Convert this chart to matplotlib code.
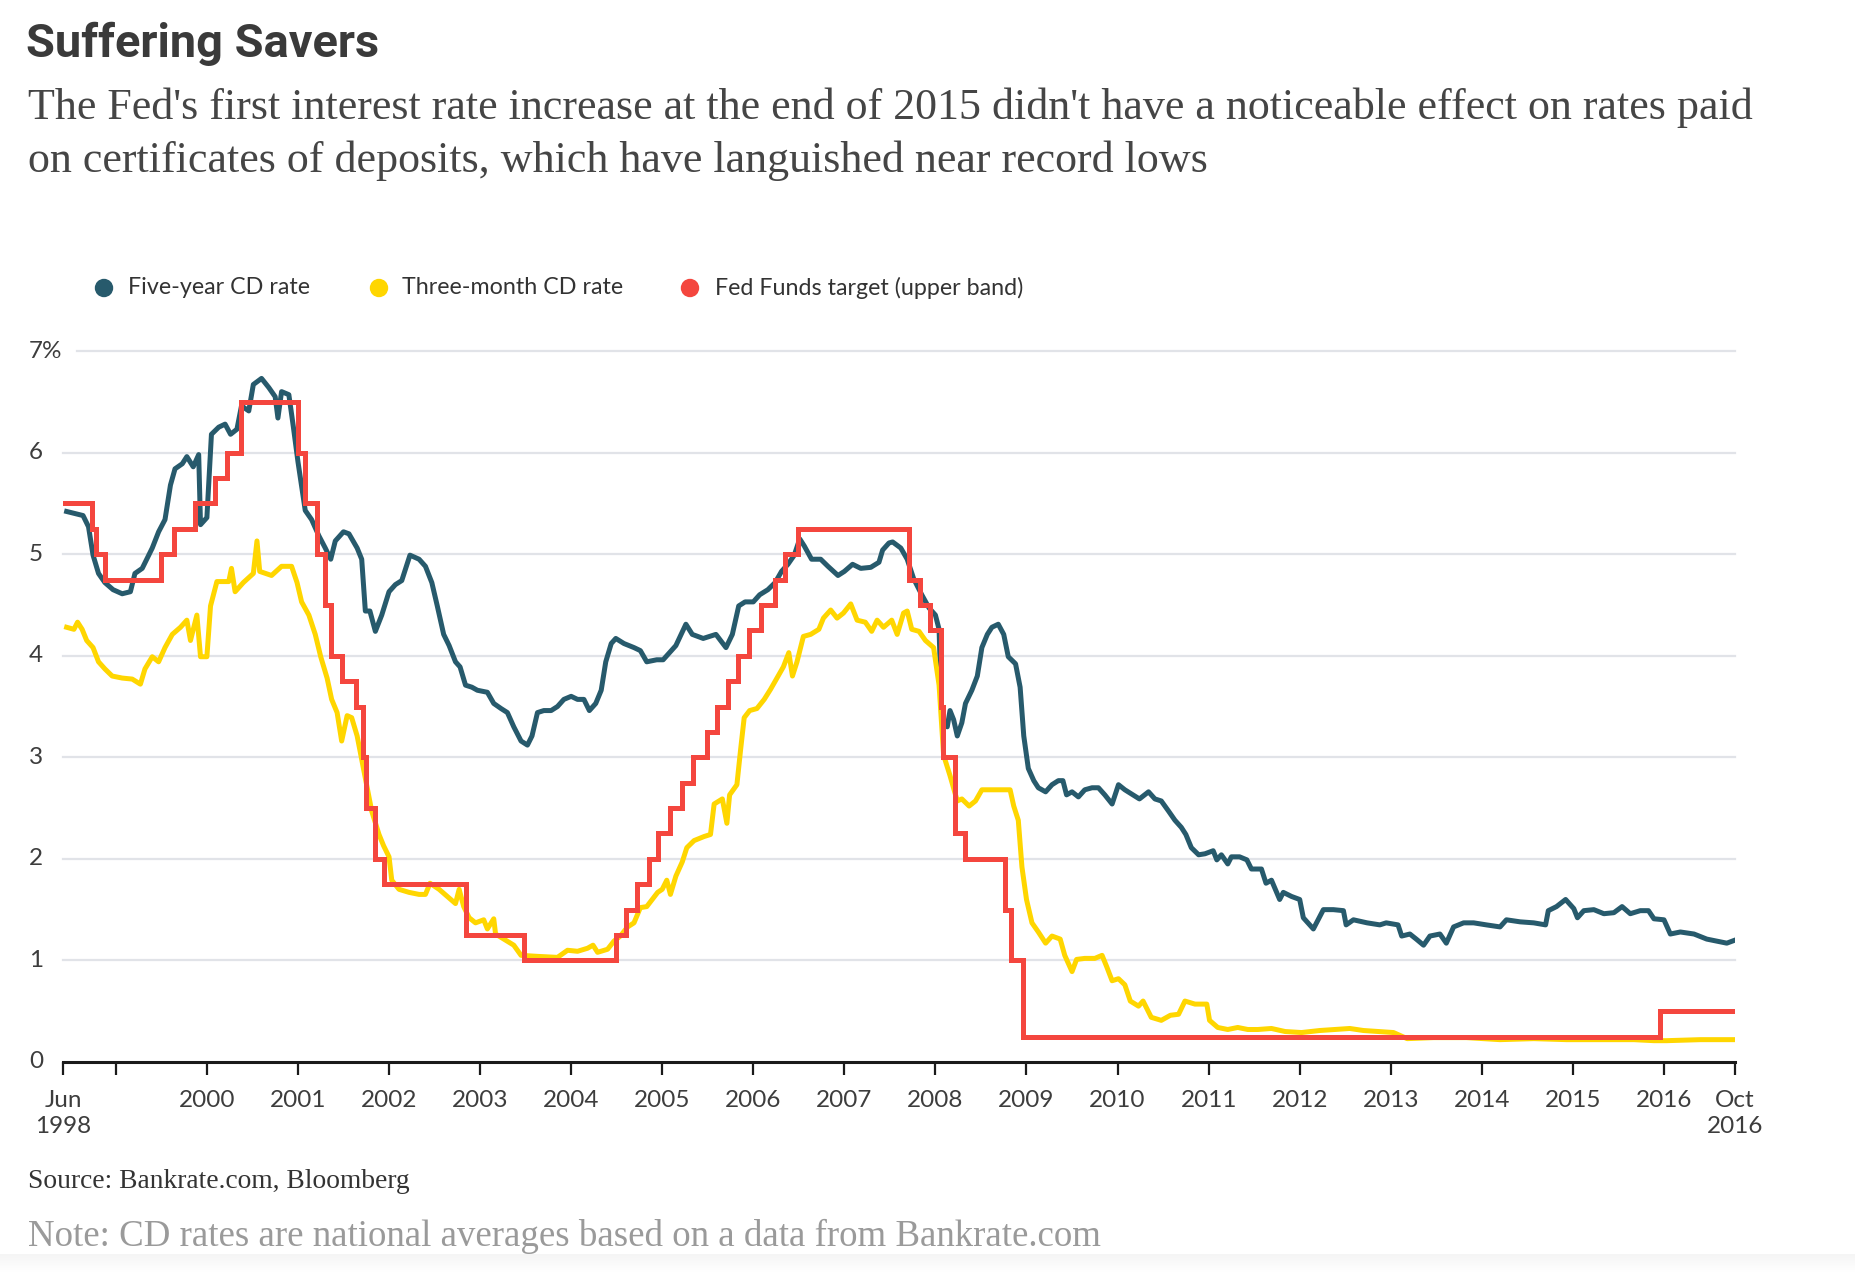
import matplotlib
matplotlib.use("Agg")
import matplotlib.pyplot as plt
import matplotlib.transforms as mtransforms
import numpy as np
import pandas as pd

# ---------------- data ----------------
five_year_t = [1998.46, 1998.55, 1998.64, 1998.70, 1998.75, 1998.81, 1998.88, 1998.97, 1999.07, 1999.16,
               1999.21, 1999.29, 1999.40, 1999.47, 1999.54, 1999.60, 1999.65, 1999.73, 1999.78, 1999.85,
               1999.91, 1999.93, 2000.00, 2000.05, 2000.13, 2000.20, 2000.26, 2000.33, 2000.38, 2000.46,
               2000.51, 2000.60, 2000.68, 2000.75, 2000.78, 2000.82, 2000.90, 2000.95, 2001.00, 2001.08,
               2001.15, 2001.23, 2001.30, 2001.36, 2001.41, 2001.50, 2001.56, 2001.65, 2001.70, 2001.74,
               2001.79, 2001.85, 2001.92, 2002.00, 2002.07, 2002.14, 2002.23, 2002.33, 2002.40, 2002.47,
               2002.53, 2002.60, 2002.66, 2002.73, 2002.78, 2002.84, 2002.91, 2002.97, 2003.08, 2003.15,
               2003.23, 2003.30, 2003.37, 2003.45, 2003.52, 2003.57, 2003.63, 2003.70, 2003.78, 2003.85,
               2003.92, 2004.00, 2004.07, 2004.14, 2004.20, 2004.27, 2004.33, 2004.38, 2004.44, 2004.49,
               2004.58, 2004.69, 2004.76, 2004.83, 2004.94, 2005.01, 2005.08, 2005.15, 2005.26, 2005.33,
               2005.45, 2005.59, 2005.70, 2005.77, 2005.84, 2005.91, 2006.00, 2006.07, 2006.16, 2006.24,
               2006.31, 2006.38, 2006.45, 2006.51, 2006.56, 2006.64, 2006.74, 2006.82, 2006.93, 2007.00,
               2007.09, 2007.18, 2007.29, 2007.38, 2007.42, 2007.49, 2007.53, 2007.62, 2007.69, 2007.76,
               2007.85, 2007.93, 2008.00, 2008.04, 2008.07, 2008.13, 2008.16, 2008.20, 2008.24, 2008.29,
               2008.33, 2008.40, 2008.46, 2008.51, 2008.57, 2008.62, 2008.69, 2008.75, 2008.80, 2008.88,
               2008.93, 2008.97, 2009.02, 2009.08, 2009.13, 2009.21, 2009.28, 2009.35, 2009.40, 2009.44,
               2009.50, 2009.57, 2009.64, 2009.72, 2009.79, 2009.86, 2009.94, 2010.01, 2010.08, 2010.17,
               2010.24, 2010.34, 2010.41, 2010.48, 2010.56, 2010.63, 2010.70, 2010.75, 2010.81, 2010.89,
               2010.96, 2011.05, 2011.09, 2011.14, 2011.21, 2011.25, 2011.34, 2011.42, 2011.47, 2011.58,
               2011.63, 2011.69, 2011.78, 2011.82, 2011.91, 2012.00, 2012.04, 2012.15, 2012.26, 2012.37,
               2012.48, 2012.51, 2012.59, 2012.74, 2012.88, 2012.95, 2013.08, 2013.12, 2013.21, 2013.28,
               2013.36, 2013.43, 2013.54, 2013.61, 2013.69, 2013.80, 2013.91, 2014.05, 2014.20, 2014.27,
               2014.42, 2014.57, 2014.70, 2014.73, 2014.82, 2014.92, 2015.01, 2015.05, 2015.12, 2015.23,
               2015.34, 2015.45, 2015.54, 2015.63, 2015.74, 2015.83, 2015.89, 2016.00, 2016.07, 2016.18,
               2016.33, 2016.47, 2016.58, 2016.69, 2016.78]
five_year_v = [5.42, 5.40, 5.38, 5.27, 4.99, 4.81, 4.72, 4.65, 4.61, 4.63,
               4.81, 4.86, 5.06, 5.22, 5.34, 5.68, 5.84, 5.89, 5.96, 5.86,
               5.98, 5.29, 5.36, 6.18, 6.25, 6.28, 6.18, 6.23, 6.46, 6.41,
               6.67, 6.73, 6.64, 6.55, 6.34, 6.60, 6.57, 6.25, 5.91, 5.43,
               5.34, 5.18, 5.06, 4.95, 5.13, 5.22, 5.20, 5.06, 4.95, 4.44,
               4.44, 4.24, 4.40, 4.63, 4.70, 4.74, 4.99, 4.95, 4.88, 4.72,
               4.49, 4.21, 4.10, 3.94, 3.89, 3.71, 3.69, 3.66, 3.64, 3.53,
               3.48, 3.44, 3.30, 3.16, 3.12, 3.21, 3.44, 3.46, 3.46, 3.50,
               3.57, 3.60, 3.57, 3.57, 3.46, 3.53, 3.66, 3.94, 4.12, 4.17,
               4.12, 4.08, 4.05, 3.94, 3.96, 3.96, 4.03, 4.10, 4.31, 4.21,
               4.17, 4.21, 4.08, 4.21, 4.49, 4.53, 4.53, 4.60, 4.65, 4.72,
               4.83, 4.90, 4.99, 5.15, 5.08, 4.95, 4.95, 4.88, 4.79, 4.83,
               4.90, 4.86, 4.87, 4.92, 5.04, 5.11, 5.12, 5.06, 4.95, 4.76,
               4.60, 4.47, 4.40, 4.26, 3.39, 3.30, 3.46, 3.37, 3.21, 3.34,
               3.53, 3.66, 3.80, 4.08, 4.21, 4.28, 4.31, 4.21, 3.99, 3.92,
               3.69, 3.21, 2.89, 2.77, 2.70, 2.66, 2.73, 2.77, 2.77, 2.63,
               2.66, 2.61, 2.68, 2.70, 2.70, 2.63, 2.54, 2.73, 2.68, 2.63,
               2.59, 2.66, 2.59, 2.57, 2.47, 2.38, 2.31, 2.24, 2.11, 2.04,
               2.05, 2.08, 1.99, 2.04, 1.95, 2.02, 2.02, 1.99, 1.90, 1.90,
               1.76, 1.79, 1.60, 1.67, 1.63, 1.60, 1.42, 1.31, 1.50, 1.50,
               1.49, 1.35, 1.40, 1.37, 1.35, 1.37, 1.35, 1.24, 1.26, 1.21,
               1.15, 1.24, 1.26, 1.17, 1.33, 1.37, 1.37, 1.35, 1.33, 1.40,
               1.38, 1.37, 1.35, 1.49, 1.53, 1.60, 1.51, 1.42, 1.49, 1.50,
               1.46, 1.47, 1.53, 1.46, 1.49, 1.49, 1.41, 1.40, 1.26, 1.28,
               1.26, 1.21, 1.19, 1.17, 1.20]

three_month_t = [1998.46, 1998.54, 1998.58, 1998.63, 1998.68, 1998.75, 1998.81, 1998.88, 1998.96, 1999.07,
                 1999.18, 1999.27, 1999.32, 1999.40, 1999.47, 1999.54, 1999.62, 1999.71, 1999.78, 1999.82,
                 1999.89, 1999.93, 2000.00, 2000.04, 2000.11, 2000.24, 2000.27, 2000.31, 2000.40, 2000.51,
                 2000.55, 2000.58, 2000.71, 2000.82, 2000.93, 2000.99, 2001.04, 2001.12, 2001.19, 2001.25,
                 2001.32, 2001.37, 2001.43, 2001.48, 2001.54, 2001.59, 2001.65, 2001.70, 2001.76, 2001.81,
                 2001.89, 2001.94, 2002.00, 2002.03, 2002.11, 2002.22, 2002.33, 2002.40, 2002.45, 2002.55,
                 2002.64, 2002.73, 2002.77, 2002.82, 2002.88, 2002.95, 2003.04, 2003.08, 2003.15, 2003.17,
                 2003.26, 2003.37, 2003.45, 2003.63, 2003.85, 2003.96, 2004.07, 2004.18, 2004.24, 2004.29,
                 2004.40, 2004.47, 2004.54, 2004.62, 2004.69, 2004.76, 2004.83, 2004.89, 2004.95, 2005.00,
                 2005.05, 2005.09, 2005.15, 2005.22, 2005.27, 2005.35, 2005.46, 2005.53, 2005.57, 2005.66,
                 2005.71, 2005.74, 2005.82, 2005.86, 2005.90, 2005.96, 2006.04, 2006.12, 2006.19, 2006.26,
                 2006.33, 2006.39, 2006.43, 2006.48, 2006.55, 2006.63, 2006.72, 2006.77, 2006.85, 2006.92,
                 2006.99, 2007.07, 2007.14, 2007.23, 2007.30, 2007.36, 2007.43, 2007.52, 2007.58, 2007.65,
                 2007.69, 2007.74, 2007.82, 2007.89, 2007.98, 2008.04, 2008.09, 2008.16, 2008.24, 2008.29,
                 2008.37, 2008.44, 2008.51, 2008.62, 2008.73, 2008.82, 2008.86, 2008.91, 2008.95, 2009.00,
                 2009.06, 2009.13, 2009.21, 2009.28, 2009.37, 2009.42, 2009.50, 2009.55, 2009.64, 2009.75,
                 2009.83, 2009.88, 2009.94, 2010.01, 2010.08, 2010.14, 2010.23, 2010.28, 2010.37, 2010.48,
                 2010.58, 2010.67, 2010.74, 2010.85, 2010.98, 2011.01, 2011.10, 2011.21, 2011.32, 2011.43,
                 2011.54, 2011.69, 2011.84, 2012.02, 2012.22, 2012.55, 2012.70, 2013.03, 2013.18, 2013.47,
                 2013.83, 2014.20, 2014.57, 2014.93, 2015.30, 2015.67, 2015.89, 2016.03, 2016.40, 2016.78]
three_month_v = [4.28, 4.26, 4.33, 4.26, 4.15, 4.08, 3.94, 3.87, 3.80, 3.78,
                 3.77, 3.72, 3.87, 3.99, 3.94, 4.08, 4.21, 4.28, 4.35, 4.15,
                 4.40, 3.99, 3.99, 4.49, 4.73, 4.73, 4.86, 4.63, 4.72, 4.81,
                 5.13, 4.83, 4.79, 4.88, 4.88, 4.72, 4.53, 4.40, 4.21, 3.99,
                 3.78, 3.57, 3.44, 3.16, 3.41, 3.39, 3.21, 2.98, 2.70, 2.47,
                 2.24, 2.13, 2.02, 1.79, 1.70, 1.67, 1.65, 1.65, 1.76, 1.70,
                 1.63, 1.56, 1.70, 1.53, 1.42, 1.37, 1.40, 1.31, 1.41, 1.26,
                 1.21, 1.15, 1.05, 1.04, 1.03, 1.10, 1.09, 1.12, 1.15, 1.08,
                 1.11, 1.19, 1.24, 1.33, 1.37, 1.52, 1.53, 1.60, 1.67, 1.70,
                 1.79, 1.65, 1.83, 1.97, 2.11, 2.18, 2.22, 2.24, 2.54, 2.59,
                 2.35, 2.63, 2.73, 3.07, 3.39, 3.46, 3.48, 3.57, 3.67, 3.78,
                 3.89, 4.03, 3.80, 3.94, 4.19, 4.21, 4.26, 4.37, 4.45, 4.37,
                 4.42, 4.51, 4.35, 4.33, 4.24, 4.35, 4.28, 4.35, 4.21, 4.42,
                 4.44, 4.26, 4.24, 4.15, 4.08, 3.71, 3.02, 2.82, 2.57, 2.59,
                 2.52, 2.57, 2.68, 2.68, 2.68, 2.68, 2.52, 2.38, 1.92, 1.60,
                 1.37, 1.28, 1.17, 1.24, 1.21, 1.05, 0.89, 1.01, 1.02, 1.02,
                 1.05, 0.94, 0.80, 0.82, 0.76, 0.60, 0.55, 0.60, 0.44, 0.41,
                 0.46, 0.47, 0.60, 0.57, 0.57, 0.41, 0.34, 0.32, 0.34, 0.32,
                 0.32, 0.33, 0.30, 0.29, 0.31, 0.33, 0.31, 0.29, 0.23, 0.24,
                 0.24, 0.22, 0.23, 0.22, 0.22, 0.22, 0.21, 0.21, 0.22, 0.22]

fed_dates = ["1998-06-01", "1998-09-29", "1998-10-15", "1998-11-17", "1999-06-30", "1999-08-24",
             "1999-11-16", "2000-02-02", "2000-03-21", "2000-05-16", "2001-01-03", "2001-01-31",
             "2001-03-20", "2001-04-18", "2001-05-15", "2001-06-27", "2001-08-21", "2001-09-17",
             "2001-10-02", "2001-11-06", "2001-12-11", "2002-11-06", "2003-06-25", "2004-06-30",
             "2004-08-10", "2004-09-21", "2004-11-10", "2004-12-14", "2005-02-02", "2005-03-22",
             "2005-05-03", "2005-06-30", "2005-08-09", "2005-09-20", "2005-11-01", "2005-12-13",
             "2006-01-31", "2006-03-28", "2006-05-10", "2006-06-29", "2007-09-18", "2007-10-31",
             "2007-12-11", "2008-01-22", "2008-01-30", "2008-03-18", "2008-04-30", "2008-10-08",
             "2008-10-29", "2008-12-16", "2015-12-16", "2016-10-12"]
fed_vals = [5.50, 5.25, 5.00, 4.75, 5.00, 5.25,
            5.50, 5.75, 6.00, 6.50, 6.00, 5.50,
            5.00, 4.50, 4.00, 3.75, 3.50, 3.00,
            2.50, 2.00, 1.75, 1.25, 1.00, 1.25,
            1.50, 1.75, 2.00, 2.25, 2.50, 2.75,
            3.00, 3.25, 3.50, 3.75, 4.00, 4.25,
            4.50, 4.75, 5.00, 5.25, 4.75, 4.50,
            4.25, 3.50, 3.00, 2.25, 2.00, 1.50,
            1.00, 0.25, 0.50, 0.50]

x_start, x_end = 1998.42, 2016.78
year_ticks = list(range(2000, 2017))
y_ticks = [0, 1, 2, 3, 4, 5, 6, 7]

series_names = ["Five-year CD rate", "Three-month CD rate", "Fed Funds target (upper band)"]

# ---------------- style ----------------
BLUE = "#275a6c"
YELLOW = "#ffd600"
RED = "#f4463e"
GRID = "#e1e3e8"
TXT = "#3d3d3d"
SANS = ["Lato", "DejaVu Sans"]
SERIF = ["Liberation Serif", "DejaVu Serif"]

W, H = 1856, 1272
fig = plt.figure(figsize=(W / 100, H / 100), dpi=100)
fig.patch.set_facecolor("white")
renderer = fig.canvas.get_renderer()


def fx(px):
    return px / W


def fy(py):
    return 1 - py / H


def fit_text(x, y, s, target_w, size0=20, **kw):
    t = fig.text(fx(x), fy(y), s, fontsize=size0, **kw)
    w = t.get_window_extent(renderer).width
    t.set_fontsize(size0 * target_w / w)
    return t


def dec_year(d):
    d = pd.Timestamp(d)
    days = 366 if d.is_leap_year else 365
    return d.year + (d.dayofyear - 1) / days


# axes geometry (pixels)
ax_l, ax_r, ax_b, ax_t = 63, 1735, 1062, 351
ax = fig.add_axes([fx(ax_l), fy(ax_b), (ax_r - ax_l) / W, (ax_b - ax_t) / H])
ax.set_xlim(x_start, x_end)
ax.set_ylim(0, 7)
ax.set_facecolor("none")
for s in ["top", "right", "left"]:
    ax.spines[s].set_visible(False)
ax.spines["bottom"].set_linewidth(2.2)
ax.spines["bottom"].set_color("#1a1a1a")
ax.spines["bottom"].set_zorder(6)

# gridlines
for v in y_ticks[1:]:
    xmin = (77 - ax_l) / (ax_r - ax_l) if v == 7 else 0
    ax.axhline(v, xmin=xmin, xmax=1, color=GRID, lw=1.6, zorder=1, clip_on=False)

# series
ax.plot(five_year_t, five_year_v, color=BLUE, lw=3.6, zorder=3, solid_joinstyle="round")
ax.plot(three_month_t, three_month_v, color=YELLOW, lw=3.6, zorder=4, solid_joinstyle="round")
fed_t = [dec_year(d) for d in fed_dates]
ax.step(fed_t, fed_vals, where="post", color=RED, lw=3.6, zorder=5, solid_joinstyle="miter")

# x ticks
tick_pos = [x_start, 1999] + year_ticks + [x_end]
tick_lab = ["Jun\n1998", ""] + [str(y) for y in year_ticks] + ["Oct\n2016"]
ax.set_xticks(tick_pos)
ax.set_xticklabels(tick_lab, fontsize=17.5, color=TXT, family=SANS, linespacing=1.25)
ax.tick_params(axis="x", direction="out", length=9.5, width=1.6, color="#1a1a1a", pad=11)
ax.set_yticks([])

# y labels
ytrans = mtransforms.blended_transform_factory(fig.transFigure, ax.transData)
for v in y_ticks:
    lab = "7%" if v == 7 else str(v)
    ax.text(fx(29), v, lab, transform=ytrans, ha="left", va="center", fontsize=17.5,
            color=TXT, family=SANS)

# title & subtitle
fit_text(26, 57, "Suffering Savers", 353, 30, family=["Roboto", "DejaVu Sans"],
         fontweight="bold", color="#3a3a3a", va="baseline")
sub1 = fit_text(28, 119, "The Fed's first interest rate increase at the end of 2015 didn't have a noticeable effect on rates paid",
                1725, 28, family=SERIF, color="#454545", va="baseline")
fig.text(fx(28), fy(172), "on certificates of deposits, which have languished near record lows",
         fontsize=sub1.get_fontsize(), family=SERIF, color="#454545", va="baseline")

# legend
leg_cx = [104, 379, 690]
leg_tx = [128, 402, 715]
leg_cols = [BLUE, YELLOW, RED]
lt = fit_text(leg_tx[0], 288, series_names[0], 183, 16, family=SANS, color="#333333", va="center")
for i in range(3):
    fig.patches.append(matplotlib.patches.Ellipse((fx(leg_cx[i]), fy(288)), 17 / W, 17 / H,
                                                  transform=fig.transFigure, color=leg_cols[i]))
    if i > 0:
        fig.text(fx(leg_tx[i]), fy(288), series_names[i], fontsize=lt.get_fontsize(), family=SANS,
                 color="#333333", va="center")

# source & note
fit_text(28, 1188, "Source: Bankrate.com, Bloomberg", 382, 16, family=SERIF, color="#333333", va="baseline")
fit_text(28, 1246, "Note: CD rates are national averages based on a data from Bankrate.com", 1072, 22,
         family=SERIF, color="#9a9a9a", va="baseline")

# faint bottom band
bax = fig.add_axes([0, 0, 1, 18 / H], zorder=-5)
grad = np.linspace(1, 0, 20).reshape(-1, 1)
bax.imshow(grad, aspect="auto", cmap=matplotlib.colors.LinearSegmentedColormap.from_list("g", ["#ffffff", "#f5f5f5"]),
           extent=[0, 1, 0, 1], vmin=0, vmax=1)
bax.axis("off")

fig.savefig("out.png", dpi=100, facecolor="white")
